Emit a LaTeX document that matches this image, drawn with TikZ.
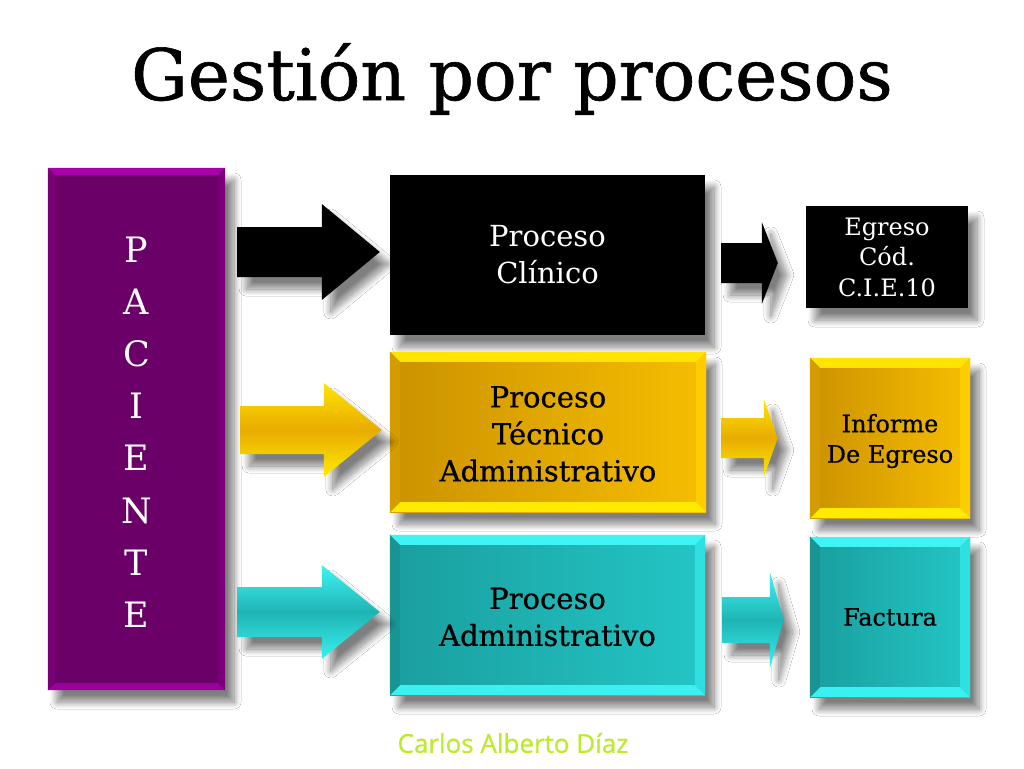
\documentclass[tikz,border=0pt]{standalone}
\usepackage{fontspec}
\setmainfont{DejaVu Serif}
\newfontfamily\heavyserif[FakeBold=0.9]{DejaVu Serif}
\newfontfamily\medserif[FakeBold=0.6]{DejaVu Serif}
\newfontfamily\authorfont[FakeBold=0.7]{Open Sans}
\usetikzlibrary{calc,shadows.blur}
\definecolor{pacbody}{HTML}{6A0068}
\definecolor{pactop}{HTML}{A800A8}
\definecolor{pacbot}{HTML}{9C009C}
\definecolor{pacside}{HTML}{7A0078}
\definecolor{yelD}{HTML}{CC9200}
\definecolor{yelM}{HTML}{E8AC00}
\definecolor{yelL}{HTML}{F6BE00}
\definecolor{yelTop}{HTML}{FFE400}
\definecolor{yelBot}{HTML}{FFEA00}
\definecolor{yelLeft}{HTML}{D49C00}
\definecolor{yelRight}{HTML}{FFCC00}
\definecolor{cyaD}{HTML}{1A9E9E}
\definecolor{cyaM}{HTML}{1FB4B4}
\definecolor{cyaL}{HTML}{24C6C6}
\definecolor{cyaTop}{HTML}{40F4F4}
\definecolor{cyaBot}{HTML}{3AF0F0}
\definecolor{cyaLeft}{HTML}{189494}
\definecolor{cyaRight}{HTML}{2EE0E0}
\definecolor{authorgreen}{HTML}{BDEB2C}
% block arrow: #1 style, #2 start point (x used), #3 tip point, #4 half shaft, #5 half head, #6 head length
\newcommand\blockarr[6]{%
  \path[#1] let \p1=#2, \p2=#3 in
    (\x1,\y2+#4) -- (\x2-#6,\y2+#4) -- (\x2-#6,\y2+#5) -- (\x2,\y2)
    -- (\x2-#6,\y2-#5) -- (\x2-#6,\y2-#4) -- (\x1,\y2-#4) -- cycle;}
% bevel edges: #1 node, #2 width, #3 top, #4 bottom, #5 left, #6 right
\newcommand\bevelbox[6]{%
  \fill[#3] let \p1=(#1.north west), \p2=(#1.south east) in
    (\x1,\y1) -- (\x2,\y1) -- (\x2-#2,\y1-#2) -- (\x1+#2,\y1-#2) -- cycle;
  \fill[#4] let \p1=(#1.north west), \p2=(#1.south east) in
    (\x1,\y2) -- (\x2,\y2) -- (\x2-#2,\y2+#2) -- (\x1+#2,\y2+#2) -- cycle;
  \fill[#5] let \p1=(#1.north west), \p2=(#1.south east) in
    (\x1,\y1) -- (\x1+#2,\y1-#2) -- (\x1+#2,\y2+#2) -- (\x1,\y2) -- cycle;
  \fill[#6] let \p1=(#1.north west), \p2=(#1.south east) in
    (\x2,\y1) -- (\x2-#2,\y1-#2) -- (\x2-#2,\y2+#2) -- (\x2,\y2) -- cycle;}
\begin{document}
\begin{tikzpicture}[x=1pt,y=-1pt,
  box/.style={rectangle, inner sep=0pt, align=center},
  shad/.style={blur shadow={shadow xshift=9pt, shadow yshift=-12pt,
     shadow blur radius=7pt, shadow opacity=50, shadow blur steps=14}},
  bigtxt/.style={font=\fontsize{29}{37}\selectfont},
  bigdark/.style={font=\medserif\fontsize{29}{37}\selectfont},
  smalltxt/.style={font=\fontsize{24}{30.5}\selectfont},
  smalldark/.style={font=\medserif\fontsize{24}{30.5}\selectfont},
  yelfill/.style={left color=yelD, right color=yelL},
  cyafill/.style={left color=cyaD, right color=cyaL},
  yelarrow/.style={top color=yelTop, bottom color=yelBot, middle color=yelM},
  cyaarrow/.style={top color=cyaTop, bottom color=cyaBot, middle color=cyaM}]
\useasboundingbox[fill=white] (0,0) rectangle (1024,768);

% title
\node[anchor=base, font=\heavyserif\fontsize{71}{80}\selectfont] (title) at (512,100) {Gestión por procesos};

% PACIENTE column
\node[box, shad, fill=pacbody, minimum width=177pt, minimum height=522pt] (pac) at (136.5,429) {};
\bevelbox{pac}{7pt}{pactop}{pacbot}{pacside}{pacside}
\node[box, text=white, font=\fontsize{35}{52.2}\selectfont] (pactext) at (136.5,432)
  {P\\A\\C\\I\\E\\N\\T\\E};

% process boxes
\node[box, shad, fill=black, minimum width=315pt, minimum height=160pt,
      text=white, bigtxt] (blk) at (547.5,255) {Proceso\\Clínico};

\node[box, shad, yelfill, minimum width=316pt, minimum height=160pt] (yel) at (548,432) {};
\bevelbox{yel}{10pt}{yelTop}{yelBot}{yelLeft}{yelRight}
\node[box, bigdark] (yeltext) at (548,434) {Proceso\\Técnico\\Administrativo};

\node[box, shad, cyafill, minimum width=315pt, minimum height=160pt] (cya) at (547.5,615) {};
\bevelbox{cya}{10pt}{cyaTop}{cyaBot}{cyaLeft}{cyaRight}
\node[box, bigdark] (cyatext) at (547.5,617) {Proceso\\Administrativo};

% result boxes
\node[box, shad, fill=black, minimum width=162pt, minimum height=102pt,
      text=white, smalltxt] (egr) at (887,257) {Egreso\\Cód.\\C.I.E.10};

\node[box, shad, yelfill, minimum width=160pt, minimum height=160pt] (inf) at (890,438) {};
\bevelbox{inf}{10pt}{yelTop}{yelBot}{yelLeft}{yelRight}
\node[box, smalldark] (inftext) at (890,441) {Informe\\De Egreso};

\node[box, shad, cyafill, minimum width=160pt, minimum height=160pt] (fac) at (890,617) {};
\bevelbox{fac}{10pt}{cyaTop}{cyaBot}{cyaLeft}{cyaRight}
\node[box, smalldark] (factext) at (890,617) {Factura};

% big arrows
\blockarr{fill=black, shad}{($(pac.east)+(12,0)$)}{($(blk.west)+(-10,-3)$)}{25pt}{48pt}{58pt}
\blockarr{yelarrow, shad}{($(pac.east)+(15,0)$)}{($(yel.west)+(-8,-2)$)}{24pt}{47pt}{58pt}
\blockarr{cyaarrow, shad}{($(pac.east)+(12,0)$)}{($(cya.west)+(-10,-3)$)}{25pt}{47pt}{58pt}

% small arrows
\blockarr{fill=black, shad}{($(blk.east)+(16,0)$)}{($(egr.west)+(-28,6)$)}{20pt}{41pt}{16pt}
\blockarr{yelarrow, shad}{($(yel.east)+(15,0)$)}{($(inf.west)+(-32,0)$)}{20pt}{39pt}{14pt}
\blockarr{cyaarrow, shad}{($(cya.east)+(17,0)$)}{($(fac.west)+(-26,3)$)}{23pt}{48pt}{14pt}

% author
\node[font=\authorfont\fontsize{26}{30}\selectfont, text=authorgreen] (author) at (513,743) {Carlos Alberto Díaz};
\end{tikzpicture}
\end{document}
